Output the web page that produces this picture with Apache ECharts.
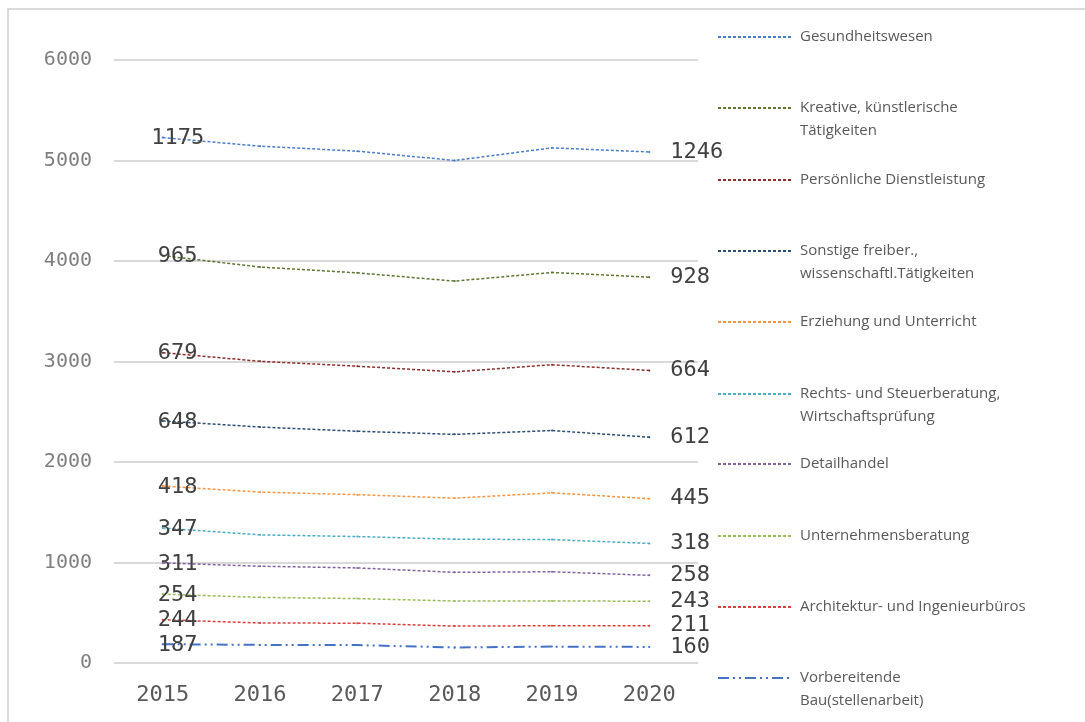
<!DOCTYPE html>
<html>
<head>
<meta charset="utf-8">
<script src="https://cdn.jsdelivr.net/npm/echarts@6/dist/echarts.min.js"></script>
<style>html,body{margin:0;padding:0;background:#fff}#c{width:1085px;height:722px}</style>
</head>
<body>
<div id="c"></div>
<script>
var years = ['2015', '2016', '2017', '2018', '2019', '2020'];
var yTicks = [0, 1000, 2000, 3000, 4000, 5000, 6000];

var vorbereitende = [187, 180, 178, 155, 163, 160];
var architektur = [244, 218, 218, 212, 208, 211];
var unternehmensberatung = [254, 255, 245, 250, 247, 243];
var detailhandel = [311, 310, 305, 285, 290, 258];
var rechts = [347, 312, 312, 330, 320, 318];
var erziehung = [418, 425, 417, 408, 465, 445];
var sonstige = [648, 648, 631, 635, 620, 612];
var persoenliche = [679, 654, 647, 622, 655, 664];
var kreative = [965, 938, 929, 903, 918, 928];
var gesundheit = [1175, 1202, 1211, 1200, 1240, 1246];

var seriesNames = [
  'Vorbereitende Bau(stellenarbeit)',
  'Architektur- und Ingenieurbüros',
  'Unternehmensberatung',
  'Detailhandel',
  'Rechts- und Steuerberatung, Wirtschaftsprüfung',
  'Erziehung und Unterricht',
  'Sonstige freiber., wissenschaftl.Tätigkeiten',
  'Persönliche Dienstleistung',
  'Kreative, künstlerische Tätigkeiten',
  'Gesundheitswesen'
];
var legendLines = [
  ['Vorbereitende', 'Bau(stellenarbeit)'],
  ['Architektur- und Ingenieurbüros'],
  ['Unternehmensberatung'],
  ['Detailhandel'],
  ['Rechts- und Steuerberatung,', 'Wirtschaftsprüfung'],
  ['Erziehung und Unterricht'],
  ['Sonstige freiber.,', 'wissenschaftl.Tätigkeiten'],
  ['Persönliche Dienstleistung'],
  ['Kreative, künstlerische', 'Tätigkeiten'],
  ['Gesundheitswesen']
];
var seriesValues = [vorbereitende, architektur, unternehmensberatung, detailhandel, rechts,
  erziehung, sonstige, persoenliche, kreative, gesundheit];
var colors = ['#4472C4', '#D9403C', '#9BBB59', '#8064A2', '#4BACC6',
  '#F79646', '#2C4D75', '#8B2F2C', '#5F7530', '#4A7CC9'];

// legend layout (center y of first text line), bottom series first
var legendCenters = [678, 607, 536, 464, 394, 322, 251, 180, 108, 37];

var labelFont = {color: '#404040', fontSize: 22, fontFamily: 'DejaVu Sans Mono'};

var series = seriesValues.map(function (vals, i) {
  var last = vals.length - 1;
  return {
    name: seriesNames[i],
    type: 'line',
    stack: 'total',
    symbol: 'circle',
    symbolSize: 2,
    animation: false,
    itemStyle: {color: colors[i]},
    lineStyle: i === 0
      ? {color: colors[i], width: 2, type: [11, 4, 2, 4, 2, 4]}
      : {color: colors[i], width: 1.5, type: [3, 2]},
    label: {show: false},
    data: vals.map(function (v, j) {
      if (j === 0) {
        return {value: v, label: Object.assign({show: true, position: 'inside', offset: [15, 1]}, labelFont)};
      }
      if (j === last) {
        return {value: v, label: Object.assign({show: true, position: 'right', distance: 20}, labelFont)};
      }
      return v;
    })
  };
});

var legends = seriesNames.map(function (name, i) {
  var lines = legendLines[i];
  var lh = 23;
  // for two-line names a leading blank line keeps the icon level with the first line
  var text = lines.length > 1 ? '\n' + lines.join('\n') : lines[0];
  var blockH = lines.length > 1 ? lh * 3 : lh;
  return {
    data: [name],
    left: 717,
    top: legendCenters[i] - blockH / 2,
    padding: 0,
    itemWidth: 73,
    itemHeight: 14,
    selectedMode: false,
    itemStyle: {opacity: 0},
    formatter: function () { return text; },
    textStyle: {
      color: '#595959',
      fontSize: 15,
      fontFamily: 'Open Sans',
      lineHeight: lh,
      padding: [0, 0, 0, 4]
    }
  };
});

var chart = echarts.init(document.getElementById('c'), null, {renderer: 'canvas'});
chart.setOption({
  backgroundColor: '#fff',
  animation: false,
  graphic: [{
    type: 'rect',
    shape: {x: 8, y: 9, width: 1200, height: 800},
    style: {fill: 'none', stroke: '#d9d9d9', lineWidth: 2},
    silent: true,
    z: -10
  }],
  legend: legends,
  grid: {left: 114, right: 387, top: 60, bottom: 59, containLabel: false},
  xAxis: {
    type: 'category',
    data: years,
    boundaryGap: true,
    axisLine: {show: false},
    axisTick: {show: false},
    axisLabel: {color: '#595959', fontSize: 22, fontFamily: 'DejaVu Sans Mono', margin: 21}
  },
  yAxis: {
    type: 'value',
    min: yTicks[0],
    max: yTicks[yTicks.length - 1],
    interval: 1000,
    axisLine: {show: false},
    axisTick: {show: false},
    splitLine: {lineStyle: {color: '#d9d9d9', width: 2}},
    axisLabel: {
      color: '#7f7f7f', fontSize: 20, fontFamily: 'DejaVu Sans Mono', margin: 22,
      formatter: function (v) { return String(v); }
    }
  },
  series: series
});
</script>
</body>
</html>
